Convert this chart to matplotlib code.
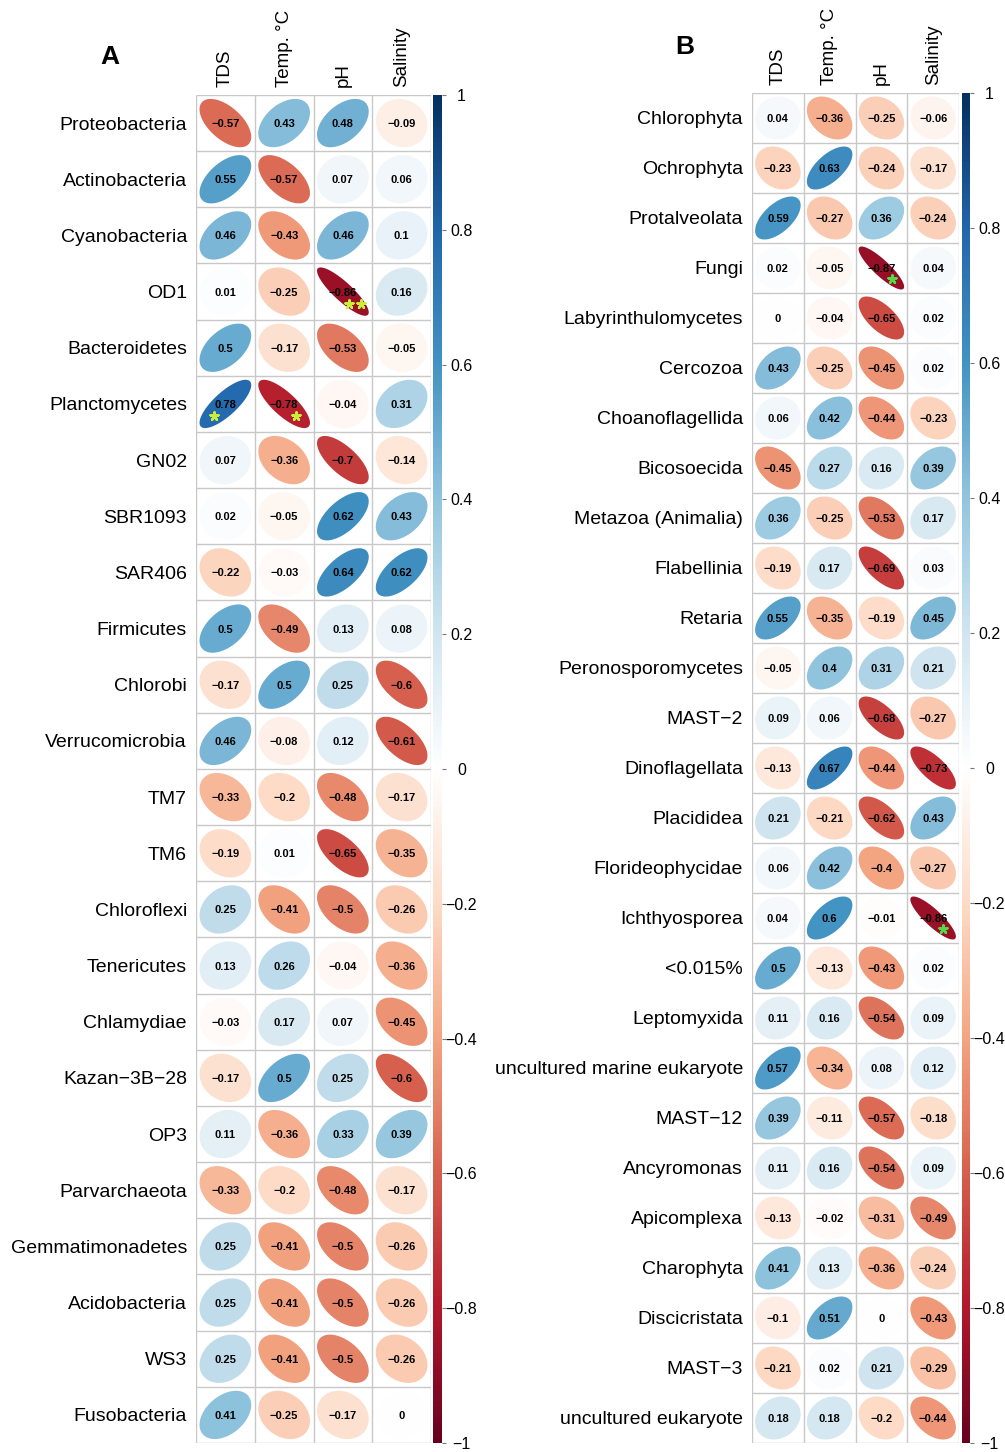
import numpy as np
import matplotlib
matplotlib.use("Agg")
import matplotlib.pyplot as plt
from matplotlib.colors import LinearSegmentedColormap, Normalize
from matplotlib.cm import ScalarMappable
from matplotlib.patches import Polygon

plt.rcParams['font.family'] = ['Liberation Sans', 'DejaVu Sans']

# ---------------- data ----------------
variables = ['TDS', 'Temp. °C', 'pH', 'Salinity']

rows_a = ['Proteobacteria', 'Actinobacteria', 'Cyanobacteria', 'OD1', 'Bacteroidetes',
          'Planctomycetes', 'GN02', 'SBR1093', 'SAR406', 'Firmicutes', 'Chlorobi',
          'Verrucomicrobia', 'TM7', 'TM6', 'Chloroflexi', 'Tenericutes', 'Chlamydiae',
          'Kazan−3B−28', 'OP3', 'Parvarchaeota', 'Gemmatimonadetes', 'Acidobacteria',
          'WS3', 'Fusobacteria']
tds_a = [-0.57, 0.55, 0.46, 0.01, 0.5, 0.78, 0.07, 0.02, -0.22, 0.5, -0.17, 0.46,
         -0.33, -0.19, 0.25, 0.13, -0.03, -0.17, 0.11, -0.33, 0.25, 0.25, 0.25, 0.41]
temp_a = [0.43, -0.57, -0.43, -0.25, -0.17, -0.78, -0.36, -0.05, -0.03, -0.49, 0.5, -0.08,
          -0.2, 0.01, -0.41, 0.26, 0.17, 0.5, -0.36, -0.2, -0.41, -0.41, -0.41, -0.25]
ph_a = [0.48, 0.07, 0.46, -0.86, -0.53, -0.04, -0.7, 0.62, 0.64, 0.13, 0.25, 0.12,
        -0.48, -0.65, -0.5, -0.04, 0.07, 0.25, 0.33, -0.48, -0.5, -0.5, -0.5, -0.17]
sal_a = [-0.09, 0.06, 0.1, 0.16, -0.05, 0.31, -0.14, 0.43, 0.62, 0.08, -0.6, -0.61,
         -0.17, -0.35, -0.26, -0.36, -0.45, -0.6, 0.39, -0.17, -0.26, -0.26, -0.26, 0]
sig_a = {('OD1', 'pH'): '**', ('Planctomycetes', 'TDS'): '*',
         ('Planctomycetes', 'Temp. °C'): '*'}

rows_b = ['Chlorophyta', 'Ochrophyta', 'Protalveolata', 'Fungi', 'Labyrinthulomycetes',
          'Cercozoa', 'Choanoflagellida', 'Bicosoecida', 'Metazoa (Animalia)', 'Flabellinia',
          'Retaria', 'Peronosporomycetes', 'MAST−2', 'Dinoflagellata', 'Placididea',
          'Florideophycidae', 'Ichthyosporea', '<0.015%', 'Leptomyxida',
          'uncultured marine eukaryote', 'MAST−12', 'Ancyromonas', 'Apicomplexa',
          'Charophyta', 'Discicristata', 'MAST−3', 'uncultured eukaryote']
tds_b = [0.04, -0.23, 0.59, 0.02, 0, 0.43, 0.06, -0.45, 0.36, -0.19, 0.55, -0.05, 0.09,
         -0.13, 0.21, 0.06, 0.04, 0.5, 0.11, 0.57, 0.39, 0.11, -0.13, 0.41, -0.1, -0.21, 0.18]
temp_b = [-0.36, 0.63, -0.27, -0.05, -0.04, -0.25, 0.42, 0.27, -0.25, 0.17, -0.35, 0.4, 0.06,
          0.67, -0.21, 0.42, 0.6, -0.13, 0.16, -0.34, -0.11, 0.16, -0.02, 0.13, 0.51, 0.02, 0.18]
ph_b = [-0.25, -0.24, 0.36, -0.87, -0.65, -0.45, -0.44, 0.16, -0.53, -0.69, -0.19, 0.31, -0.68,
        -0.44, -0.62, -0.4, -0.01, -0.43, -0.54, 0.08, -0.57, -0.54, -0.31, -0.36, 0, 0.21, -0.2]
sal_b = [-0.06, -0.17, -0.24, 0.04, 0.02, 0.02, -0.23, 0.39, 0.17, 0.03, 0.45, 0.21, -0.27,
         -0.73, 0.43, -0.27, -0.86, 0.02, 0.09, 0.12, -0.18, 0.09, -0.49, -0.24, -0.43, -0.29, -0.44]
sig_b = {('Fungi', 'pH'): '*', ('Ichthyosporea', 'Salinity'): '*'}

cbar_ticks = [-1, -0.8, -0.6, -0.4, -0.2, 0, 0.2, 0.4, 0.6, 0.8, 1]

# ---------------- style ----------------
W, H = 1005, 1452
fig = plt.figure(figsize=(W / 100, H / 100), dpi=100)
cmap = LinearSegmentedColormap.from_list(
    'corrRdBu', ["#67001F", "#B2182B", "#D6604D", "#F4A582", "#FDDBC7", "#FFFFFF",
                 "#D1E5F0", "#92C5DE", "#4393C3", "#2166AC", "#053061"])
norm = Normalize(-1, 1)


def fbox(x0, y0, x1, y1):
    return [x0 / W, 1 - y1 / H, (x1 - x0) / W, (y1 - y0) / H]


def fmt(v):
    v = round(float(v), 2) + 0.0
    return f"{v:g}".replace('-', '\u2212')


def panel(ax, rows, cols_vals, sig, star_color):
    n = len(rows)
    mat = np.column_stack(cols_vals)
    ax.set_xlim(0, 4)
    ax.set_ylim(n, 0)
    t = np.linspace(0, 2 * np.pi, 160)
    for i in range(n):
        for j in range(4):
            r = mat[i, j]
            d = np.arccos(np.clip(r, -1, 1))
            ex = np.cos(t + d / 2)
            ey = np.cos(t - d / 2)
            pts = np.column_stack([j + 0.5 + 0.44 * ex, i + 0.5 - 0.43 * ey])
            ax.add_patch(Polygon(pts, closed=True, fc=cmap(norm(r)), ec='none', zorder=1))
            ax.text(j + 0.5, i + 0.5, fmt(r), ha='center', va='center_baseline',
                    fontsize=8, fontweight='bold', zorder=3)
            key = (rows[i], variables[j])
            if key in sig:
                k = len(sig[key])
                sx = j + 0.5 + (0.2 if r < 0 else -0.2)
                xs = sx + (np.arange(k) - (k - 1) / 2) * 0.2
                ax.scatter(xs, [i + 0.5 + 0.22] * k, marker=(5, 2, 0), s=34,
                           color=star_color, linewidths=1.8, zorder=4)
    ax.hlines(np.arange(n + 1), 0, 4, color='#C8C8C8', lw=1, zorder=2)
    ax.vlines(np.arange(5), 0, n, color='#C8C8C8', lw=1, zorder=2)
    ax.set_yticks(np.arange(n) + 0.5)
    ax.set_yticklabels(rows, fontsize=14)
    ax.set_xticks(np.arange(4) + 0.5)
    ax.set_xticklabels(variables, rotation=90, fontsize=13.5)
    ax.xaxis.tick_top()
    ax.tick_params(axis='y', length=0, pad=6.5)
    ax.tick_params(axis='x', length=0, pad=6)
    for s in ax.spines.values():
        s.set_visible(False)


def cbar(box):
    cax = fig.add_axes(fbox(*box))
    cb = fig.colorbar(ScalarMappable(norm=norm, cmap=cmap), cax=cax)
    cb.set_ticks(cbar_ticks)
    cb.set_ticklabels([fmt(v) for v in cbar_ticks])
    cb.outline.set_visible(False)
    cax.tick_params(length=3, width=0.8, color='#777777', pad=11, labelsize=11.5)
    for lab in cax.get_yticklabels():
        lab.set_ha('center')


ax_a = fig.add_axes(fbox(196, 95, 431, 1443))
panel(ax_a, rows_a, [tds_a, temp_a, ph_a, sal_a], sig_a, '#c6f03a')
cbar((433, 95, 442, 1443))

ax_b = fig.add_axes(fbox(752, 93, 959, 1443))
panel(ax_b, rows_b, [tds_b, temp_b, ph_b, sal_b], sig_b, '#55d84a')
cbar((962, 93, 970, 1443))

fig.text(110 / W, 1 - 57 / H, 'A', ha='center', va='center', fontsize=19, fontweight='bold')
fig.text(685 / W, 1 - 47 / H, 'B', ha='center', va='center', fontsize=19, fontweight='bold')

fig.savefig('out.png', dpi=100)
